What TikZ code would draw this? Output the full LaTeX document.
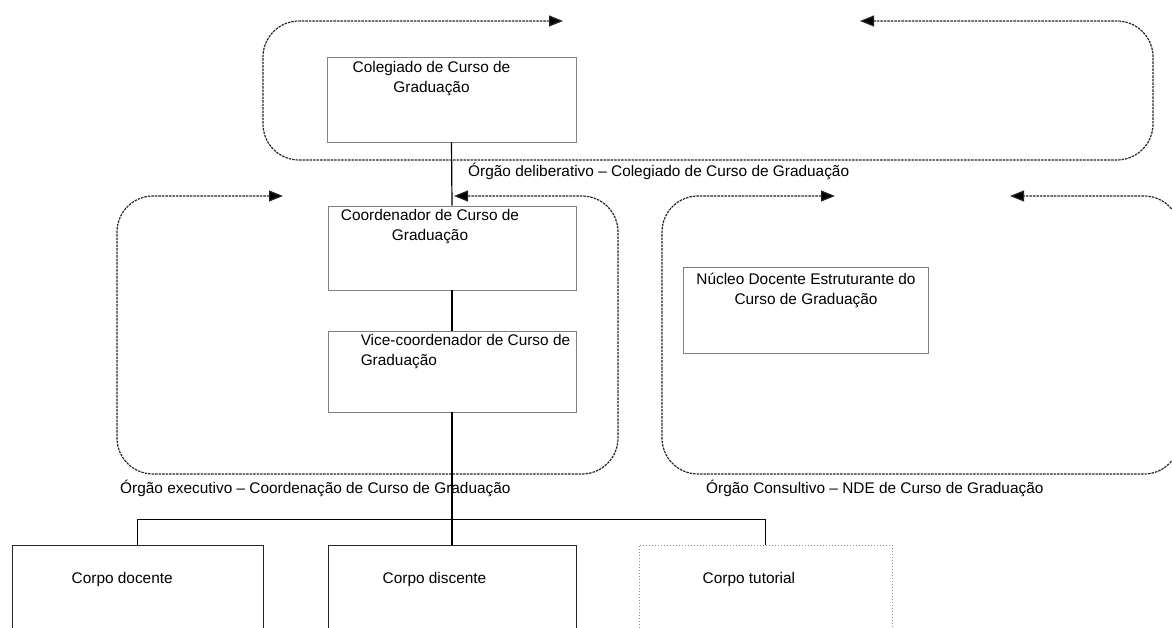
\documentclass[tikz,border=0pt]{standalone}
\usepackage{fontspec}
\setmainfont{Liberation Sans}
\usetikzlibrary{arrows.meta,positioning}

\begin{document}
\begin{tikzpicture}[x=1pt,y=-1pt,
	caixa/.style={draw=black!50,line width=0.9pt,minimum width=248pt,minimum height=84pt,inner sep=0pt},
	corpo/.style={draw=black!85,line width=1pt,minimum width=251pt,minimum height=114pt,inner sep=0pt},
	txt/.style={font=\fontsize{15.4}{20}\selectfont,inner sep=0pt,align=center},
	laco/.style={draw=black!85,line width=1.2pt,dash pattern=on 2.5pt off 1pt,rounded corners=36pt,
		{Triangle[length=14pt,width=11pt,fill=black]}-{Triangle[length=14pt,width=11pt,fill=black]}},
	liga/.style={draw=black,line width=1.2pt}]

\useasboundingbox (0,0) rectangle (1172,628);
\clip (0,0) rectangle (1172,628);

\draw[laco] (563,21) -- (263,21) -- (263,160) -- (1153,160) -- (1153,21) -- (860,21);
\draw[laco] (283,196) -- (117,196) -- (117,474) -- (618,474) -- (618,196) -- (454,196);
\draw[laco] (835,196) -- (662,196) -- (662,474) -- (1180,474) -- (1180,196) -- (1010,196);

\node[caixa,minimum width=249pt,minimum height=85pt] (coleg) at (451.5,99.5) {};
\node[caixa] (coord) at (452,248) {};
\node[caixa,minimum height=81pt] (vice) at (452,371.5) {};
\node[caixa,minimum width=245pt,minimum height=86pt] (nde) at (806,310) {};
\node[corpo] (docente) at (137.5,602) {};
\node[corpo,minimum width=248pt] (discente) at (452,602) {};
\node[corpo,draw=black!45,dotted,minimum width=253pt] (tutorial) at (765.5,602) {};

\node[txt,anchor=north] (tColeg) at ([xshift=-20pt,yshift=-5pt]coleg.north) {Colegiado de Curso de\\Graduação};
\node[txt,anchor=north] (tCoord) at ([xshift=-22pt,yshift=-4pt]coord.north) {Coordenador de Curso de\\Graduação};
\node[txt,anchor=north west,align=left] (tVice) at ([xshift=33pt,yshift=-4pt]vice.north west) {Vice-coordenador de Curso de\\Graduação};
\node[txt,anchor=north] (tNde) at ([yshift=-6pt]nde.north) {Núcleo Docente Estruturante do\\Curso de Graduação};
\node[txt,anchor=north west] (tDocente) at ([xshift=60pt,yshift=-28pt]docente.north west) {Corpo docente};
\node[txt,anchor=north west] (tDiscente) at ([xshift=55pt,yshift=-28pt]discente.north west) {Corpo discente};
\node[txt,anchor=north west] (tTutorial) at ([xshift=64pt,yshift=-28pt]tutorial.north west) {Corpo tutorial};

\node[txt,anchor=west] (rotDelib) at (468,171) {Órgão deliberativo – Colegiado de Curso de Graduação};
\node[txt,anchor=west] (rotExec) at (120,488) {Órgão executivo – Coordenação de Curso de Graduação};
\node[txt,anchor=west] (rotCons) at (706,488) {Órgão Consultivo – NDE de Curso de Graduação};

\draw[liga] (coleg.south) -- (coord.north);
\draw[liga] (coord.south) -- (vice.north);
\draw[liga] (vice.south) -- (discente.north);
\draw[liga] (docente.north) -- ++(0,-25) -| (tutorial.north);

\end{tikzpicture}
\end{document}
